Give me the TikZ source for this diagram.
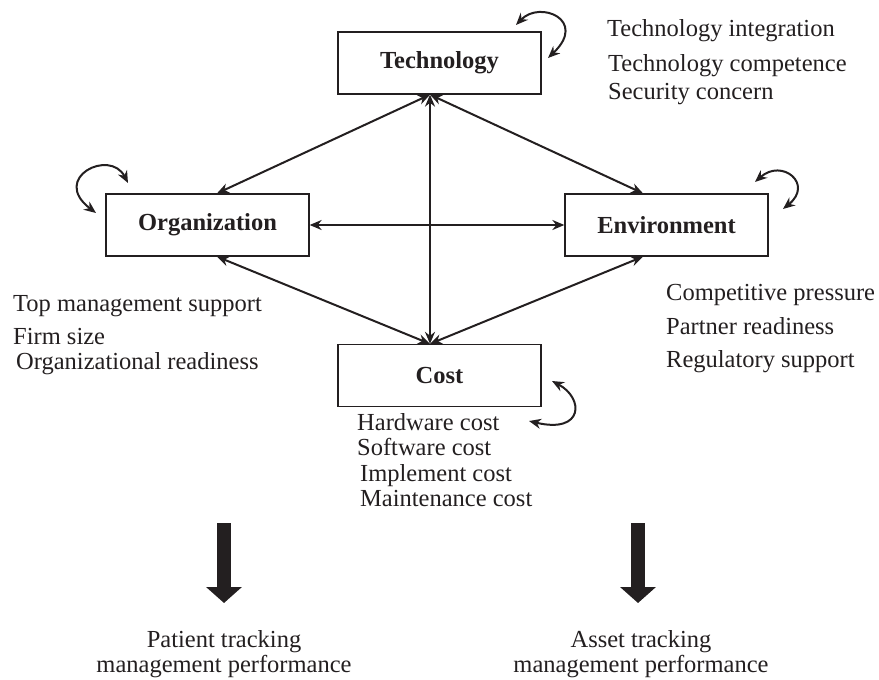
\documentclass[tikz,border=0pt]{standalone}
\usepackage{fontspec}
\setmainfont{Liberation Serif}
\usetikzlibrary{arrows.meta}
\definecolor{ink}{HTML}{231F20}
\begin{document}
\begin{tikzpicture}[x=1pt,y=-1pt,
  box/.style={draw=ink, line width=1.3pt, minimum width=203pt, minimum height=62pt, inner sep=0pt,
    font=\fontsize{24.5}{28}\selectfont\bfseries, text=ink},
  lbl/.style={anchor=base west, inner sep=0pt, font=\fontsize{24.5}{28}\selectfont, text=ink},
  clbl/.style={anchor=base, inner sep=0pt, font=\fontsize{24.5}{28}\selectfont, text=ink},
  rel/.style={draw=ink, line width=2pt, {Stealth[length=12pt,width=10pt]}-{Stealth[length=12pt,width=10pt]}},
  selfloop/.style={draw=ink, line width=2pt, {Stealth[length=12pt,width=10pt]}-{Stealth[length=12pt,width=10pt]}},
  bigarrow/.style={draw=ink, line width=14pt, -{Triangle[length=16pt,width=35pt]}}
]
\useasboundingbox (0,0) rectangle (879,680);

% boxes
\node[box] (tech) at (439.5,63) {Technology};
\node[box] (org)  at (207.5,225) {Organization};
\node[box] (env)  at (666.5,225) {Environment};
\node[box] (cost) at (439.5,375.5) {Cost};

% relations
\draw[rel] ([xshift=-9.5pt]tech.south) -- ([xshift=9.5pt]org.north);
\draw[rel] ([xshift=-9.5pt]tech.south) -- ([xshift=-23.5pt]env.north);
\draw[rel] ([xshift=-9.5pt]tech.south) -- ([xshift=-9.5pt]cost.north);
\draw[rel] (org.east) -- (env.west);
\draw[rel] ([xshift=9.5pt]org.south) -- ([xshift=-9.5pt]cost.north);
\draw[rel] ([xshift=-23.5pt]env.south) -- ([xshift=-9.5pt]cost.north);

% self loops
\coordinate (tl1) at (516,25); \coordinate (tl2) at (548,58);
\draw[selfloop] (tl1) .. controls (540,0) and (588,20) .. (tl2);
\coordinate (ol1) at (128,183); \coordinate (ol2) at (96,213);
\draw[selfloop] (ol1) .. controls (110,148) and (50,178) .. (ol2);
\coordinate (el1) at (755,182); \coordinate (el2) at (783,209);
\draw[selfloop] (el1) .. controls (782,158) and (814,184) .. (el2);
\coordinate (cl1) at (552,381); \coordinate (cl2) at (529,421);
\draw[selfloop] (cl1) .. controls (584,398) and (584,434) .. (cl2);

% technology factors
\node[lbl] (t1) at (607,36) {Technology integration};
\node[lbl] (t2) at (608,71) {Technology competence};
\node[lbl] (t3) at (608,99) {Security concern};

% organization factors
\node[lbl] (o1) at (13,311) {Top management support};
\node[lbl] (o2) at (13,344) {Firm size};
\node[lbl] (o3) at (16,369) {Organizational readiness};

% environment factors
\node[lbl] (e1) at (666,300) {Competitive pressure};
\node[lbl] (e2) at (666,334.5) {Partner readiness};
\node[lbl] (e3) at (666,367) {Regulatory support};

% cost factors
\node[lbl] (c1) at (357,430) {Hardware cost};
\node[lbl] (c2) at (357,455) {Software cost};
\node[lbl] (c3) at (360,481) {Implement cost};
\node[lbl] (c4) at (360,506) {Maintenance cost};

% outcomes
\node[clbl] (p1) at (224,647) {Patient tracking};
\node[clbl] (p2) at (224,672) {management performance};
\node[clbl] (a1) at (641,647) {Asset tracking};
\node[clbl] (a2) at (641,672) {management performance};

\coordinate (pa) at (224,523); \coordinate (pb) at (224,603);
\draw[bigarrow] (pa) -- (pb);
\coordinate (aa) at (638,523); \coordinate (ab) at (638,603);
\draw[bigarrow] (aa) -- (ab);
\end{tikzpicture}
\end{document}
